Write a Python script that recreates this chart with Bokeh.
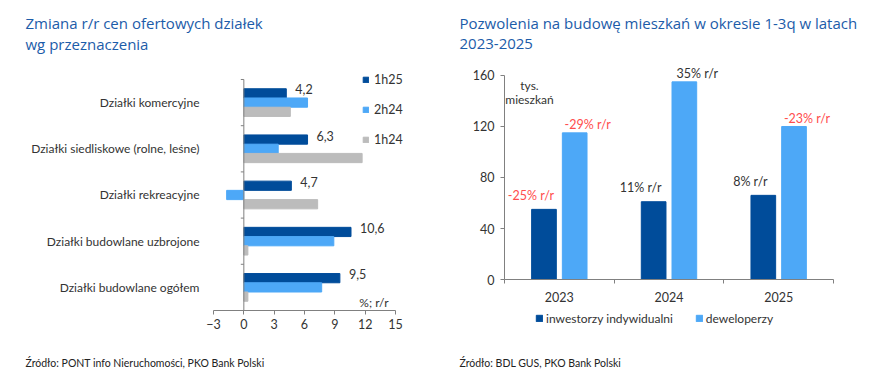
from bokeh.plotting import figure
from bokeh.models import (ColumnDataSource, Range1d, FixedTicker, Label, Legend,
                          LegendItem)
from bokeh.transform import dodge
from bokeh.core.properties import value
from bokeh.layouts import row
from bokeh.embed import file_html
from bokeh.resources import INLINE

FONT = "Lato"
TFONT = "Open Sans"
DARK = "#004c9a"
LIGHT = "#4da8f7"
GRAY = "#bcbcbc"
TITLE_C = "#1c5ca9"
TXT = "#333333"
AX = "#808080"
RED = "#ff4d4d"

# ---------------- data: left chart ----------------
categories = ["Działki komercyjne", "Działki siedliskowe (rolne, leśne)",
              "Działki rekreacyjne", "Działki budowlane uzbrojone",
              "Działki budowlane ogółem"]
h1_25 = [4.2, 6.3, 4.7, 10.6, 9.5]
h2_24 = [6.3, 3.4, -1.7, 8.9, 7.7]
h1_24 = [4.6, 11.7, 7.3, 0.4, 0.4]
series_left = ["1h25", "2h24", "1h24"]
x_ticks_left = [-3, 0, 3, 6, 9, 12, 15]

# ---------------- data: right chart ----------------
years = ["2023", "2024", "2025"]
inwestorzy = [55, 61, 66]
deweloperzy = [115, 155, 120]
inw_change = ["-25% r/r", "11% r/r", "8% r/r"]
dew_change = ["-29% r/r", "35% r/r", "-23% r/r"]
series_right = ["inwestorzy indywidualni", "deweloperzy"]
y_ticks_right = [0, 40, 80, 120, 160]

H = 384


def screen_label(p, x, y, text, size, color, align="left", font=FONT):
    p.add_layout(Label(x=x, y=H - y, x_units="screen", y_units="screen", text=text,
                       text_font=font, text_font_size=size, text_color=color,
                       text_baseline="middle", text_align=align))


def style_axis(ax, size="12.5px"):
    ax.axis_line_color = AX
    ax.major_tick_line_color = AX
    ax.major_tick_out = 4
    ax.major_tick_in = 0
    ax.minor_tick_line_color = None
    ax.major_label_text_font = FONT
    ax.major_label_text_font_size = size
    ax.major_label_text_color = TXT


# =============== LEFT FIGURE ===============
n = len(categories)
ypos = [n - 0.5 - i for i in range(n)]
src_l = ColumnDataSource(dict(y=ypos, a=h1_25, b=h2_24, c=h1_24,
                              lab=[f"{v:.1f}".replace(".", ",") for v in h1_25]))

pl = figure(width=438, height=H, output_backend="svg", toolbar_location=None,
            x_range=Range1d(-24.066, 19.253), y_range=Range1d(-1.602, 6.71),
            min_border=0, outline_line_color=None, background_fill_color=None,
            border_fill_color="white")
pl.xgrid.visible = False
pl.ygrid.visible = False

bh = 0.2
r1 = pl.hbar(y=dodge("y", bh, range=pl.y_range), right="a", left=0, height=bh,
             source=src_l, color=DARK)
r2 = pl.hbar(y="y", right="b", left=0, height=bh, source=src_l, color=LIGHT)
r3 = pl.hbar(y=dodge("y", -bh, range=pl.y_range), right="c", left=0, height=bh,
             source=src_l, color=GRAY)

pl.text(x="a", y=dodge("y", bh, range=pl.y_range), text="lab", source=src_l,
        x_offset=9, y_offset=-4, text_baseline="middle", text_align="left",
        text_font=value(FONT), text_font_size="12.5px", text_color=TXT)

# zero line with band ticks
pl.segment(x0=[0], y0=[0], x1=[0], y1=[n], line_color=AX, line_width=1)
pl.segment(x0=[-0.3] * (n + 1), y0=list(range(n + 1)), x1=[0] * (n + 1),
           y1=list(range(n + 1)), line_color=AX, line_width=1)

xa = pl.xaxis[0]
style_axis(xa)
xa.ticker = FixedTicker(ticks=x_ticks_left)
xa.bounds = (-3, 15)
xa.fixed_location = 0
xa.major_label_standoff = 5

ya = pl.yaxis[0]
style_axis(ya, "12px")
ya.ticker = FixedTicker(ticks=ypos)
ya.major_label_overrides = {y: c for y, c in zip(ypos, categories)}
ya.fixed_location = -3
ya.axis_line_color = None
ya.major_tick_line_color = None
ya.major_tick_out = 0
ya.major_label_standoff = 14

leg_l = Legend(items=[LegendItem(label=s, renderers=[r]) for s, r in
                      zip(series_left, [r1, r2, r3])],
               location=(362, H - 149), orientation="vertical",
               glyph_width=7, glyph_height=7, label_height=20, spacing=10,
               padding=0, margin=0, label_standoff=5, border_line_color=None,
               background_fill_alpha=0, label_text_font=FONT,
               label_text_font_size="12.5px", label_text_color=TXT)
pl.add_layout(leg_l, "center")

screen_label(pl, 25, 22.5, "Zmiana r/r cen ofertowych działek", "15px", TITLE_C,
             font=TFONT)
screen_label(pl, 25, 43, "wg przeznaczenia", "15px", TITLE_C, font=TFONT)
screen_label(pl, 388, 302, "%; r/r", "12px", TXT, "right")
screen_label(pl, 25, 362, "Źródło: PONT info Nieruchomości, PKO Bank Polski",
             "10.5px", "#222222")

# =============== RIGHT FIGURE ===============
xpos = [i + 0.5 for i in range(len(years))]
src_r = ColumnDataSource(dict(
    x=xpos, inw=inwestorzy, dew=deweloperzy, inw_t=inw_change, dew_t=dew_change,
    inw_c=[RED if t.startswith("-") else TXT for t in inw_change],
    dew_c=[RED if t.startswith("-") else TXT for t in dew_change]))

pr = figure(width=432, height=H, output_backend="svg", toolbar_location=None,
            x_range=Range1d(-0.6018, 3.3374), y_range=Range1d(-82.35, 218.82),
            min_border=0, outline_line_color=None, background_fill_color=None,
            border_fill_color="white")
pr.xgrid.visible = False
pr.ygrid.visible = False

bw = 0.225
off = 0.14
q1 = pr.vbar(x=dodge("x", -off, range=pr.x_range), top="inw", bottom=0, width=bw,
             source=src_r, color=DARK)
q2 = pr.vbar(x=dodge("x", off, range=pr.x_range), top="dew", bottom=0, width=bw,
             source=src_r, color=LIGHT)

pr.text(x=dodge("x", -off, range=pr.x_range), y="inw", text="inw_t", source=src_r,
        x_offset=-13, y_offset=-14, text_align="center", text_baseline="middle",
        text_font=value(FONT), text_font_size="12.5px", text_color="inw_c")
pr.text(x=dodge("x", off, range=pr.x_range), y="dew", text="dew_t", source=src_r,
        x_offset=13, y_offset=-8, text_align="center", text_baseline="middle",
        text_font=value(FONT), text_font_size="12.5px", text_color="dew_c")

yr = pr.yaxis[0]
style_axis(yr)
yr.ticker = FixedTicker(ticks=y_ticks_right)
yr.bounds = (0, 160)
yr.fixed_location = 0
yr.major_label_standoff = 6

# year labels at band centres (major), band boundaries as minor ticks
xr = pr.xaxis[0]
style_axis(xr)
xr.ticker = FixedTicker(ticks=xpos, minor_ticks=list(range(len(years) + 1)))
xr.major_label_overrides = {x: y for x, y in zip(xpos, years)}
xr.bounds = (0, len(years))
xr.fixed_location = 0
xr.major_tick_line_color = None
xr.major_tick_out = 0
xr.minor_tick_line_color = AX
xr.minor_tick_out = 4
xr.minor_tick_in = 0
xr.major_label_standoff = 8

leg_r = Legend(items=[LegendItem(label=s, renderers=[r]) for s, r in
                      zip(series_right, [q1, q2])],
               location=(97, H - 326), orientation="horizontal",
               glyph_width=8, glyph_height=8, label_height=16, spacing=22,
               padding=0, margin=0, label_standoff=3, border_line_color=None,
               background_fill_alpha=0, label_text_font=FONT,
               label_text_font_size="12px", label_text_color=TXT)
pr.add_layout(leg_r, "center")

screen_label(pr, 91, 85, "tys.", "12px", TXT, "center")
screen_label(pr, 91, 99, "mieszkań", "12px", TXT, "center")
screen_label(pr, 21, 22.5, "Pozwolenia na budowę mieszkań w okresie 1-3q w latach",
             "15px", TITLE_C, font=TFONT)
screen_label(pr, 21, 43, "2023-2025", "15px", TITLE_C, font=TFONT)
screen_label(pr, 21, 362, "Źródło: BDL GUS, PKO Bank Polski", "10.5px", "#222222")

layout = row(pl, pr, spacing=0)
open("out.html", "w").write(file_html(layout, INLINE))
